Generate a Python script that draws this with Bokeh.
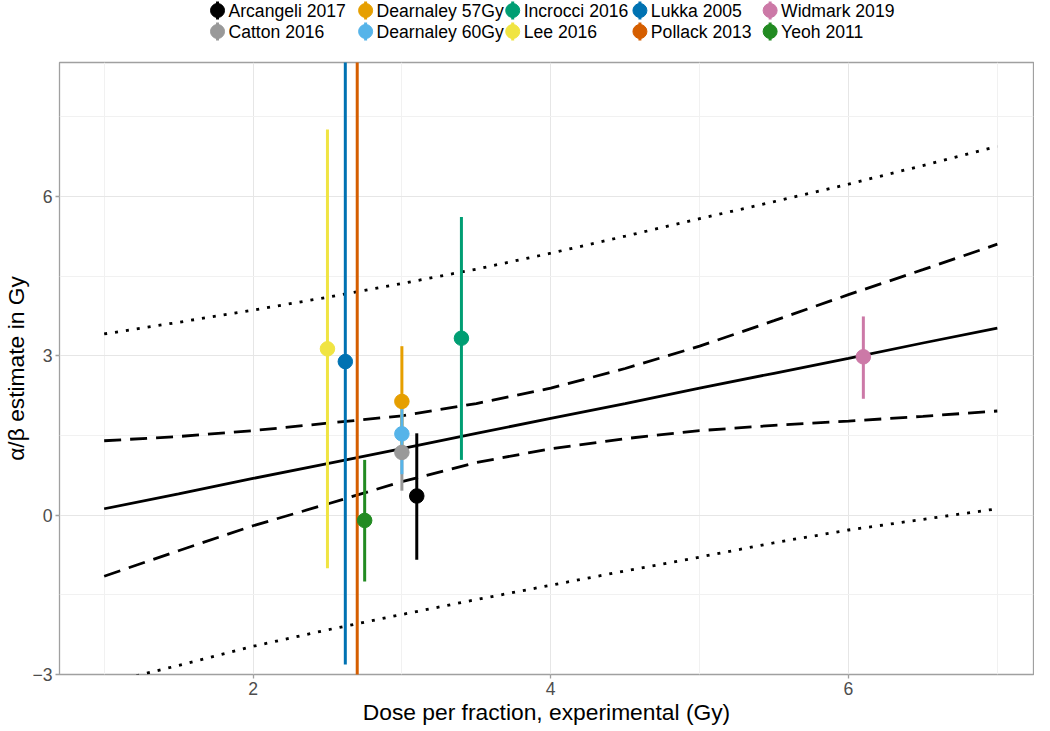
from bokeh.plotting import figure
from bokeh.models import Range1d, FixedTicker, ColumnDataSource
from bokeh.layouts import column
from bokeh.core.properties import value
from bokeh.embed import file_html
from bokeh.resources import INLINE

# ---------------- data ----------------
studies = ["Arcangeli 2017", "Catton 2016", "Dearnaley 57Gy", "Dearnaley 60Gy",
           "Incrocci 2016", "Lee 2016", "Lukka 2005", "Pollack 2013",
           "Widmark 2019", "Yeoh 2011"]
colors = ["#000000", "#999999", "#E69F00", "#56B4E9", "#009E73",
          "#F0E442", "#0072B2", "#D55E00", "#CC79A7", "#228B22"]
dose = [3.10, 3.00, 3.00, 3.00, 3.40, 2.50, 2.62, 2.70, 6.10, 2.75]
estimate = [0.36, 1.18, 2.14, 1.53, 3.33, 3.13, 2.89, 9.50, 2.98, -0.10]
lower = [-0.84, 0.46, 1.10, 0.77, 1.04, -1.00, -2.81, -4.00, 2.19, -1.25]
upper = [1.54, 1.90, 3.18, 2.05, 5.61, 7.26, 11.00, 20.00, 3.74, 1.04]

curve_x = [1.0, 1.5, 2.0, 2.5, 3.0, 3.5, 4.0, 4.5, 5.0, 5.5, 6.0, 6.5, 7.0]
fit = [0.12, 0.40, 0.69, 0.97, 1.25, 1.54, 1.82, 2.10, 2.39, 2.67, 2.95, 3.24, 3.52]
ci_upper = [1.40, 1.48, 1.59, 1.73, 1.87, 2.10, 2.39, 2.76, 3.18, 3.66, 4.15, 4.62, 5.10]
ci_lower = [-1.15, -0.67, -0.20, 0.21, 0.63, 0.99, 1.25, 1.44, 1.59, 1.69, 1.77, 1.86, 1.96]
pi_upper = [3.41, 3.63, 3.86, 4.10, 4.36, 4.63, 4.93, 5.25, 5.58, 5.90, 6.23, 6.58, 6.94]
pi_lower = [-3.17, -2.83, -2.47, -2.16, -1.87, -1.59, -1.32, -1.05, -0.79, -0.52, -0.28, -0.08, 0.12]

x_ticks = [2, 4, 6]
x_minor = [1, 3, 5, 7]
y_ticks = [-3, 0, 3, 6]
y_minor = [-1.5, 1.5, 4.5, 7.5]
y_tick_labels = {-3: "\u22123", 0: "0", 3: "3", 6: "6"}

FONT = "Liberation Sans"
W = 1034
LEFT = 53
RIGHT = 1

# ---------------- legend figure ----------------
LEG_H = 44
leg_col_x = [212, 361, 509, 637, 768]
leg_row_y = [10, 31]
lx = [leg_col_x[i // 2] for i in range(len(studies))]
ly = [leg_row_y[i % 2] for i in range(len(studies))]
leg_src = ColumnDataSource(dict(
    x=lx, y=ly, y0=[v - 9 for v in ly], y1=[v + 9 for v in ly],
    tx=[v + 11 for v in lx], label=studies, color=colors))

leg = figure(width=W, height=LEG_H, x_range=Range1d(LEFT, W - RIGHT), y_range=Range1d(LEG_H, 0),
             output_backend="svg", toolbar_location=None,
             x_axis_location=None, y_axis_location=None,
             min_border_left=LEFT, min_border_right=RIGHT, min_border_top=0, min_border_bottom=0)
leg.outline_line_color = None
leg.grid.visible = False
leg.segment(x0="x", y0="y0", x1="x", y1="y1", line_color="color", line_width=3, source=leg_src)
leg.scatter(x="x", y="y", size=14, fill_color="color", line_color="color", source=leg_src)
leg.text(x="tx", y="y", text="label", text_font=value(FONT), text_font_size="17.6px",
         text_baseline="middle", text_align="left", text_color="#000000", source=leg_src)

# ---------------- main figure ----------------
p = figure(width=W, height=683, x_range=Range1d(0.70, 7.243), y_range=Range1d(-3.0, 8.52),
           output_backend="svg", toolbar_location=None,
           min_border_left=LEFT, min_border_right=RIGHT, min_border_top=18, min_border_bottom=50)
p.background_fill_color = "white"
p.outline_line_color = "#A0A0A0"
p.outline_line_width = 1.3

p.xaxis.ticker = FixedTicker(ticks=x_ticks, minor_ticks=x_minor)
p.yaxis.ticker = FixedTicker(ticks=y_ticks, minor_ticks=y_minor)
p.yaxis.major_label_overrides = y_tick_labels

for ax in (p.xaxis[0], p.yaxis[0]):
    ax.axis_line_color = None
    ax.major_tick_line_color = "#A0A0A0"
    ax.major_tick_line_width = 1.3
    ax.major_tick_in = 0
    ax.major_tick_out = 4
    ax.minor_tick_line_color = None
    ax.major_label_text_font = FONT
    ax.major_label_text_font_size = "17.6px"
    ax.major_label_text_color = "#4D4D4D"
    ax.axis_label_text_font = FONT
    ax.axis_label_text_font_size = "22.8px"
    ax.axis_label_text_font_style = "normal"
    ax.axis_label_text_color = "#000000"

p.xaxis.axis_label = "Dose per fraction, experimental (Gy)"
p.yaxis.axis_label = "\u03b1/\u03b2 estimate in Gy"
p.xaxis.major_label_standoff = 3
p.xaxis.axis_label_standoff = 1
p.yaxis.major_label_standoff = 3
p.yaxis.axis_label_standoff = 0

p.grid.grid_line_color = "#E6E6E6"
p.grid.grid_line_width = 1
p.grid.minor_grid_line_color = "#F1F1F1"
p.grid.minor_grid_line_width = 1

curves = ColumnDataSource(dict(x=curve_x, fit=fit, cu=ci_upper, cl=ci_lower,
                               pu=pi_upper, pl=pi_lower))
p.line("x", "pu", source=curves, line_color="black", line_width=2.8, line_dash="3 8")
p.line("x", "pl", source=curves, line_color="black", line_width=2.8, line_dash="3 8")
p.line("x", "cu", source=curves, line_color="black", line_width=2.8, line_dash="17 9")
p.line("x", "cl", source=curves, line_color="black", line_width=2.8, line_dash="17 9")
p.line("x", "fit", source=curves, line_color="black", line_width=2.8)

src = ColumnDataSource(dict(dose=dose, est=estimate, lo=lower, hi=upper,
                            color=colors, study=studies))
p.segment(x0="dose", y0="lo", x1="dose", y1="hi", line_color="color", line_width=3, source=src)
p.scatter(x="dose", y="est", size=14.5, fill_color="color", line_color="color", source=src)

layout = column(leg, p, spacing=0)
open("out.html", "w").write(file_html(layout, INLINE))
